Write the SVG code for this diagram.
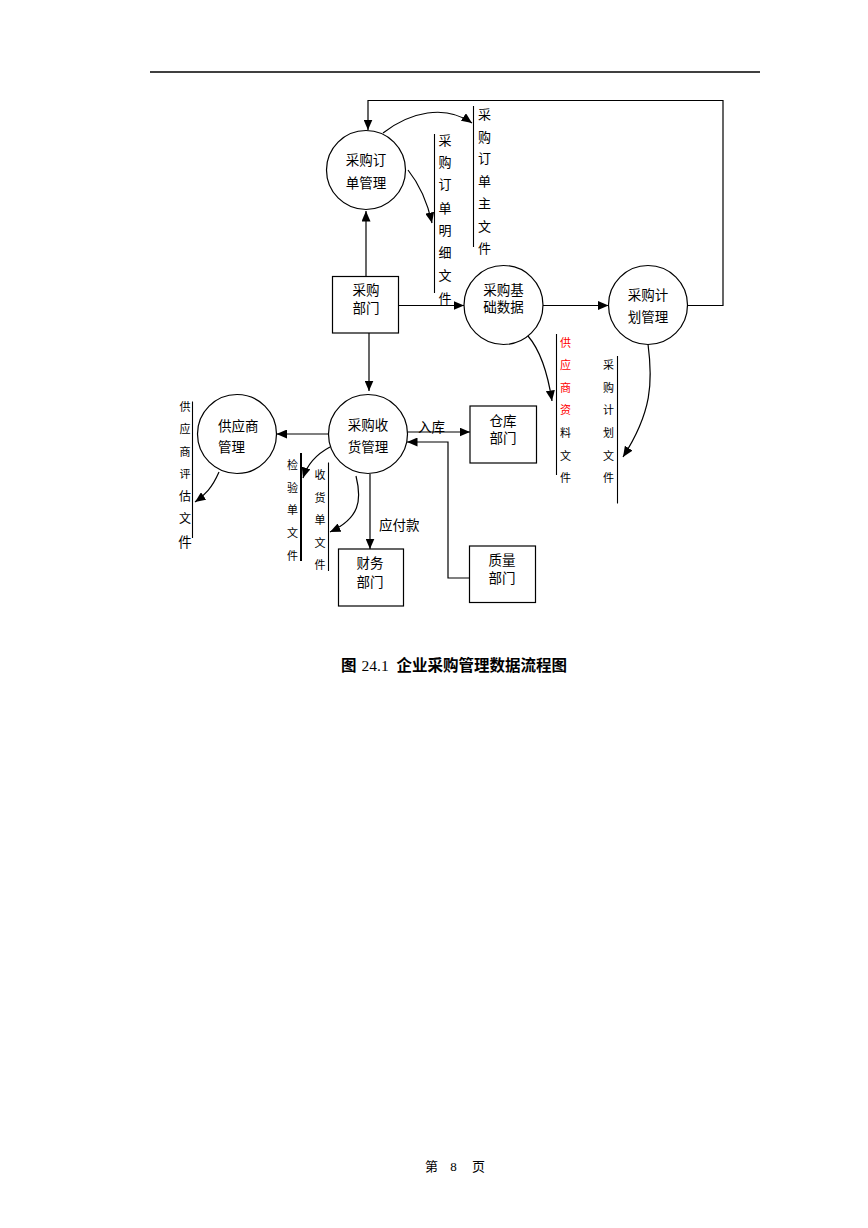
<svg xmlns="http://www.w3.org/2000/svg" width="868" height="1228" viewBox="0 0 868 1228">
<style>
text{font-family:"Liberation Sans","Noto Sans CJK SC",sans-serif;fill:#000}
.n{font-size:13.5px;text-anchor:middle}
.s13{font-size:13px;text-anchor:middle}
.s11{font-size:11px;text-anchor:middle}
.shape{fill:#fff;stroke:#000;stroke-width:1.2}
.ln{fill:none;stroke:#000;stroke-width:1.2}
.ds{fill:none;stroke:#000;stroke-width:1.1}
.red{fill:#ff0000}
.cap{font-size:15.5px;font-weight:bold}
</style>
<defs>
<marker id="ah" markerUnits="userSpaceOnUse" markerWidth="11" markerHeight="9" refX="10.5" refY="4.5" orient="auto">
<path d="M0,0 L10.5,4.5 L0,9 z" fill="#000"/>
</marker>
</defs>
<rect width="868" height="1228" fill="#fff"/>
<line x1="150" y1="72" x2="760" y2="72" stroke="#000" stroke-width="1.4"/>

<g id="connectors">
<line class="ln" x1="366" y1="277" x2="366" y2="211" marker-end="url(#ah)"/>
<line class="ln" x1="398" y1="305.5" x2="464" y2="305.5" marker-end="url(#ah)"/>
<line class="ln" x1="543" y1="305.5" x2="608.5" y2="305.5" marker-end="url(#ah)"/>
<polyline class="ln" points="687.5,305.5 723,305.5 723,100.5 368,100.5 368,130" marker-end="url(#ah)"/>
<line class="ln" x1="369" y1="333" x2="369" y2="391" marker-end="url(#ah)"/>
<line class="ln" x1="328.5" y1="434" x2="276.5" y2="434" marker-end="url(#ah)"/>
<line class="ln" x1="407.5" y1="432" x2="470" y2="432" marker-end="url(#ah)"/>
<polyline class="ln" points="469,578 448,578 448,442 407,442" marker-end="url(#ah)"/>
<line class="ln" x1="370" y1="474" x2="370" y2="549" marker-end="url(#ah)"/>
<path class="ln" d="M383,133 C410,112 445,104 472,123" marker-end="url(#ah)"/>
<path class="ln" d="M408,170 C420,185 428,205 432,223" marker-end="url(#ah)"/>
<path class="ln" d="M528,336 C540,350 548,375 552,401" marker-end="url(#ah)"/>
<path class="ln" d="M648,344 C653,382 652,412 623,457" marker-end="url(#ah)"/>
<path class="ln" d="M219,472 C212,488 205,495 195,502" marker-end="url(#ah)"/>
<path class="ln" d="M330,447 C315,455 307,465 303,478" marker-end="url(#ah)"/>
<path class="ln" d="M356,476 C362,500 360,518 330,532" marker-end="url(#ah)"/>
<text x="418" y="432" style="font-size:13.5px">入库</text>
<text x="379" y="530" style="font-size:13.5px">应付款</text>
</g>

<g id="order-mgmt">
<circle class="shape" cx="366" cy="170" r="39.5"/>
<text class="n" x="366" y="165">采购订</text>
<text class="n" x="366" y="188">单管理</text>
</g>

<g id="purchase-dept">
<rect class="shape" x="332.5" y="276.5" width="66" height="56.5"/>
<text class="n" x="366" y="295">采购</text>
<text class="n" x="366" y="313">部门</text>
</g>

<g id="base-data">
<circle class="shape" cx="503.5" cy="305" r="39.5"/>
<text class="n" x="503.5" y="295">采购基</text>
<text class="n" x="503.5" y="312">础数据</text>
</g>

<g id="plan-mgmt">
<circle class="shape" cx="648" cy="305" r="39.5"/>
<text class="n" x="648" y="300">采购计</text>
<text class="n" x="648" y="322">划管理</text>
</g>

<g id="receive-mgmt">
<circle class="shape" cx="368" cy="434" r="39.5"/>
<text class="n" x="368" y="430">采购收</text>
<text class="n" x="368" y="452">货管理</text>
</g>

<g id="supplier-mgmt">
<circle class="shape" cx="237" cy="434" r="39.5"/>
<text x="218" y="431" style="font-size:13.5px">供应商</text>
<text x="218" y="452" style="font-size:13.5px">管理</text>
</g>

<g id="warehouse">
<rect class="shape" x="470" y="406" width="66.5" height="57"/>
<text class="n" x="503" y="426">仓库</text>
<text class="n" x="503" y="443">部门</text>
</g>

<g id="quality">
<rect class="shape" x="469.5" y="546" width="66" height="56.5"/>
<text class="n" x="502" y="565">质量</text>
<text class="n" x="502" y="583">部门</text>
</g>

<g id="finance">
<rect class="shape" x="338.5" y="549" width="65" height="57"/>
<text class="n" x="370" y="568">财务</text>
<text class="n" x="370" y="587">部门</text>
</g>

<g id="store-order-master">
<line class="ds" x1="473.5" y1="106" x2="473.5" y2="247"/>
<text class="s13"><tspan x="484.5" y="119">采</tspan><tspan x="484.5" y="142">购</tspan><tspan x="484.5" y="163">订</tspan><tspan x="484.5" y="186">单</tspan><tspan x="484.5" y="208">主</tspan><tspan x="484.5" y="231">文</tspan><tspan x="484.5" y="253">件</tspan></text>
</g>

<g id="store-order-detail">
<line class="ds" x1="434.5" y1="134" x2="434.5" y2="293"/>
<text class="s13"><tspan x="445" y="145">采</tspan><tspan x="445" y="167">购</tspan><tspan x="445" y="189">订</tspan><tspan x="445" y="213">单</tspan><tspan x="445" y="235">明</tspan><tspan x="445" y="257">细</tspan><tspan x="445" y="280">文</tspan><tspan x="445" y="303">件</tspan></text>
</g>

<g id="store-supplier-info">
<line class="ds" x1="556.5" y1="334" x2="556.5" y2="475"/>
<text class="s11"><tspan class="red" x="565.5" y="347">供</tspan><tspan class="red" x="565.5" y="369">应</tspan><tspan class="red" x="565.5" y="392">商</tspan><tspan class="red" x="565.5" y="414">资</tspan><tspan x="565.5" y="437">料</tspan><tspan x="565.5" y="460">文</tspan><tspan x="565.5" y="482">件</tspan></text>
</g>

<g id="store-plan">
<line class="ds" x1="617.5" y1="356" x2="617.5" y2="503.5"/>
<text class="s11"><tspan x="608.5" y="369">采</tspan><tspan x="608.5" y="392">购</tspan><tspan x="608.5" y="414">计</tspan><tspan x="608.5" y="437">划</tspan><tspan x="608.5" y="460">文</tspan><tspan x="608.5" y="482">件</tspan></text>
</g>

<g id="store-inspection">
<line x1="301" y1="453" x2="301" y2="561" stroke="#000" stroke-width="2"/>
<text class="s11"><tspan x="292.5" y="469">检</tspan><tspan x="292.5" y="492">验</tspan><tspan x="292.5" y="514">单</tspan><tspan x="292.5" y="537">文</tspan><tspan x="292.5" y="560">件</tspan></text>
</g>

<g id="store-receipt">
<line class="ds" x1="328.5" y1="462.5" x2="328.5" y2="571"/>
<text class="s11"><tspan x="320" y="479">收</tspan><tspan x="320" y="502">货</tspan><tspan x="320" y="524">单</tspan><tspan x="320" y="547">文</tspan><tspan x="320" y="569">件</tspan></text>
</g>

<g id="store-supplier-eval">
<line class="ds" x1="192.5" y1="401.5" x2="192.5" y2="538"/>
<text class="s11"><tspan x="185" y="411">供</tspan><tspan x="185" y="433">应</tspan><tspan x="185" y="456">商</tspan><tspan x="185" y="478">评</tspan><tspan x="185" y="501" style="font-size:12px">估</tspan><tspan x="185" y="523" style="font-size:12px">文</tspan><tspan x="185" y="547" style="font-size:13.5px">件</tspan></text>
</g>

<text x="341" y="671" class="cap">图</text>
<text x="361.5" y="670.5" style="font-family:'Liberation Serif',serif;font-size:15.5px">24.1</text>
<text x="396.5" y="671" class="cap">企业采购管理数据流程图</text>

<text x="431.5" y="1171" class="s13">第</text>
<text x="453.5" y="1171" style="font-family:'Liberation Serif',serif;font-size:13px;text-anchor:middle">8</text>
<text x="478.5" y="1171" class="s13">页</text>
</svg>
